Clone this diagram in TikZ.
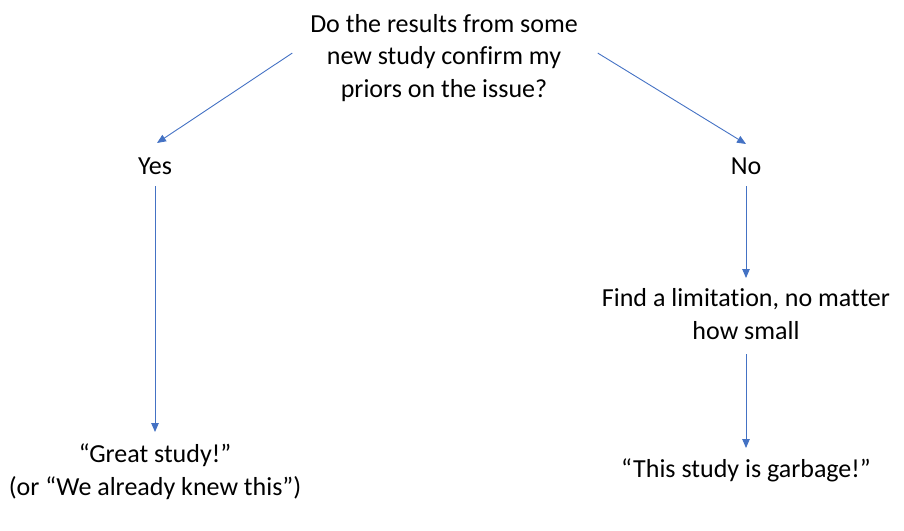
\documentclass[tikz,border=0pt]{standalone}
\usepackage{fontspec}
\setmainfont{Carlito}[RawFeature=-liga]
\usetikzlibrary{arrows.meta}
\definecolor{officeblue}{HTML}{4472C4}
\tikzset{
  txt/.style={inner sep=0pt, outer sep=0pt, align=center, anchor=base,
              font=\fontsize{26}{32.5}\selectfont},
  arr/.style={draw=officeblue, line width=0.9pt,
              -{Triangle[length=9pt,width=7.5pt]}}
}
\begin{document}
\begin{tikzpicture}[x=1pt,y=-1pt]
\useasboundingbox (0,0) rectangle (904,530);
\node[txt] (q) at (444,97) {Do the results from some\\new study confirm my\\priors on the issue?};
\node[txt] (yes) at (155,174) {Yes};
\node[txt] (no) at (746,174) {No};
\node[txt] (find) at (746,339) {Find a limitation, no matter\\how small};
\node[txt] (garb) at (746,477) {“This study is garbage!”};
\node[txt] (great) at (155,495) {“Great study!”\\(or “We already knew this”)};
\draw[arr] ([xshift=-18pt,yshift=4.5pt]q.west) -- ([xshift=2pt,yshift=31pt]yes.base);
\draw[arr] ([xshift=20pt,yshift=4.5pt]q.east) -- ([yshift=30pt]no.base);
\draw[arr] ([yshift=-12pt]yes.base) -- ([yshift=63pt]great.base);
\draw[arr] ([yshift=-12pt]no.base) -- ([yshift=61pt]find.base);
\draw[arr] ([yshift=-15pt]find.base) -- ([yshift=29pt]garb.base);
\end{tikzpicture}
\end{document}
